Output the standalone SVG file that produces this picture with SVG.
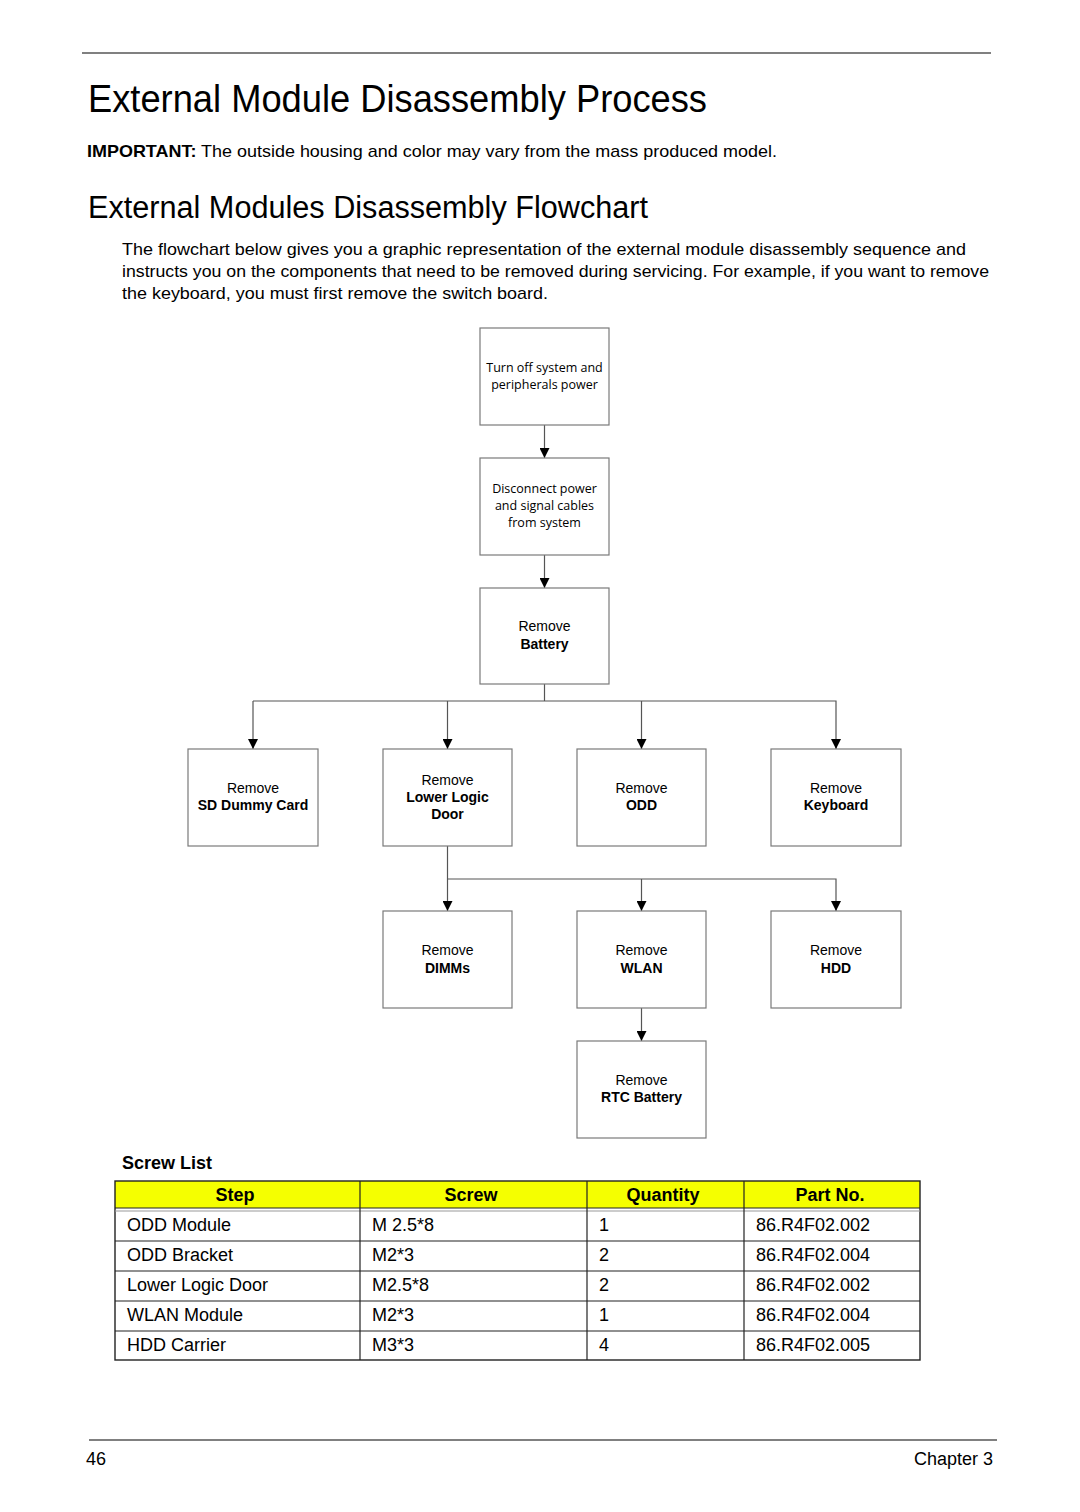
<svg xmlns="http://www.w3.org/2000/svg" width="1080" height="1512" viewBox="0 0 1080 1512">
<style>
text{font-family:"Liberation Sans",Arial,sans-serif;fill:#000}
.rule{stroke:#808080;stroke-width:2}
.box{fill:#fff;stroke:#7a7a7a;stroke-width:1.2}
.bt{font-size:14px;text-anchor:middle}
.bb{font-size:14px;font-weight:bold;text-anchor:middle}
.ct{font-family:"Open Sans","Noto Sans",sans-serif;font-size:12.5px;text-anchor:middle}
.con{stroke:#555;stroke-width:1.2;fill:none}
.cell{font-size:18px}
.hd{font-size:18px;font-weight:bold;text-anchor:middle}
.tl{stroke:#222;stroke-width:1.2}
</style>
<defs>
<marker id="ah" viewBox="0 0 10 10" refX="10" refY="5" markerWidth="10" markerHeight="10" markerUnits="userSpaceOnUse" orient="auto">
<path d="M0,0 L10,5 L0,10 z" fill="#000"/>
</marker>
</defs>
<rect width="1080" height="1512" fill="#fff"/>
<line class="rule" x1="82" y1="53" x2="991" y2="53"/>
<text x="88" y="112" font-size="38" textLength="619" lengthAdjust="spacingAndGlyphs">External Module Disassembly Process</text>
<text x="87" y="157" font-size="17" textLength="690" lengthAdjust="spacingAndGlyphs"><tspan font-weight="bold">IMPORTANT:</tspan> The outside housing and color may vary from the mass produced model.</text>
<text x="88" y="218" font-size="31" textLength="560" lengthAdjust="spacingAndGlyphs">External Modules Disassembly Flowchart</text>
<text x="122" y="255" font-size="17" textLength="844" lengthAdjust="spacingAndGlyphs">The flowchart below gives you a graphic representation of the external module disassembly sequence and</text>
<text x="122" y="277" font-size="17" textLength="867" lengthAdjust="spacingAndGlyphs">instructs you on the components that need to be removed during servicing. For example, if you want to remove</text>
<text x="122" y="299" font-size="17" textLength="426" lengthAdjust="spacingAndGlyphs">the keyboard, you must first remove the switch board.</text>

<g id="connectors">
<line class="con" x1="544.5" y1="425" x2="544.5" y2="458" marker-end="url(#ah)"/>
<line class="con" x1="544.5" y1="555" x2="544.5" y2="588" marker-end="url(#ah)"/>
<polyline class="con" points="544.5,684 544.5,701"/>
<polyline class="con" points="253,701 836,701 836,749" marker-end="url(#ah)"/>
<line class="con" x1="253" y1="701" x2="253" y2="749" marker-end="url(#ah)"/>
<line class="con" x1="447.5" y1="701" x2="447.5" y2="749" marker-end="url(#ah)"/>
<line class="con" x1="641.5" y1="701" x2="641.5" y2="749" marker-end="url(#ah)"/>
<line class="con" x1="447.5" y1="846" x2="447.5" y2="911" marker-end="url(#ah)"/>
<polyline class="con" points="447.5,879 836,879 836,911" marker-end="url(#ah)"/>
<line class="con" x1="641.5" y1="879" x2="641.5" y2="911" marker-end="url(#ah)"/>
<line class="con" x1="641.5" y1="1008" x2="641.5" y2="1041" marker-end="url(#ah)"/>
</g>

<g id="n-poweroff"><rect class="box" x="480" y="328" width="129" height="97"/>
<text class="ct" x="544.5" y="372">Turn off system and</text><text class="ct" x="544.5" y="389">peripherals power</text></g>
<g id="n-disconnect"><rect class="box" x="480" y="458" width="129" height="97"/>
<text class="ct" x="544.5" y="493">Disconnect power</text><text class="ct" x="544.5" y="510">and signal cables</text><text class="ct" x="544.5" y="527">from system</text></g>
<g id="n-battery"><rect class="box" x="480" y="588" width="129" height="96"/>
<text class="bt" x="544.5" y="631">Remove</text><text class="bb" x="544.5" y="649">Battery</text></g>
<g id="n-sd"><rect class="box" x="188" y="749" width="130" height="97"/>
<text class="bt" x="253" y="793">Remove</text><text class="bb" x="253" y="810">SD Dummy Card</text></g>
<g id="n-lld"><rect class="box" x="383" y="749" width="129" height="97"/>
<text class="bt" x="447.5" y="785">Remove</text><text class="bb" x="447.5" y="802">Lower Logic</text><text class="bb" x="447.5" y="819">Door</text></g>
<g id="n-odd"><rect class="box" x="577" y="749" width="129" height="97"/>
<text class="bt" x="641.5" y="793">Remove</text><text class="bb" x="641.5" y="810">ODD</text></g>
<g id="n-kb"><rect class="box" x="771" y="749" width="130" height="97"/>
<text class="bt" x="836" y="793">Remove</text><text class="bb" x="836" y="810">Keyboard</text></g>
<g id="n-dimm"><rect class="box" x="383" y="911" width="129" height="97"/>
<text class="bt" x="447.5" y="955">Remove</text><text class="bb" x="447.5" y="973">DIMMs</text></g>
<g id="n-wlan"><rect class="box" x="577" y="911" width="129" height="97"/>
<text class="bt" x="641.5" y="955">Remove</text><text class="bb" x="641.5" y="973">WLAN</text></g>
<g id="n-hdd"><rect class="box" x="771" y="911" width="130" height="97"/>
<text class="bt" x="836" y="955">Remove</text><text class="bb" x="836" y="973">HDD</text></g>
<g id="n-rtc"><rect class="box" x="577" y="1041" width="129" height="97"/>
<text class="bt" x="641.5" y="1085">Remove</text><text class="bb" x="641.5" y="1102">RTC Battery</text></g>

<text x="122" y="1169" font-size="18" font-weight="bold">Screw List</text>
<g id="table">
<rect x="115" y="1181" width="805" height="27" fill="#f5ff00"/>
<rect x="115" y="1181" width="805" height="179" fill="none" stroke="#222" stroke-width="1.4"/>
<line class="tl" x1="115" y1="1208" x2="920" y2="1208"/>
<line x1="115" y1="1211" x2="920" y2="1211" stroke="#999" stroke-width="1"/>
<line class="tl" x1="115" y1="1241" x2="920" y2="1241"/>
<line class="tl" x1="115" y1="1271" x2="920" y2="1271"/>
<line class="tl" x1="115" y1="1301" x2="920" y2="1301"/>
<line class="tl" x1="115" y1="1331" x2="920" y2="1331"/>
<line class="tl" x1="360" y1="1181" x2="360" y2="1360"/>
<line class="tl" x1="587" y1="1181" x2="587" y2="1360"/>
<line class="tl" x1="744" y1="1181" x2="744" y2="1360"/>
<text class="hd" x="235" y="1201">Step</text>
<text class="hd" x="471" y="1201">Screw</text>
<text class="hd" x="663" y="1201">Quantity</text>
<text class="hd" x="830" y="1201">Part No.</text>
<text class="cell" x="127" y="1231">ODD Module</text><text class="cell" x="372" y="1231">M 2.5*8</text><text class="cell" x="599" y="1231">1</text><text class="cell" x="756" y="1231">86.R4F02.002</text>
<text class="cell" x="127" y="1261">ODD Bracket</text><text class="cell" x="372" y="1261">M2*3</text><text class="cell" x="599" y="1261">2</text><text class="cell" x="756" y="1261">86.R4F02.004</text>
<text class="cell" x="127" y="1291">Lower Logic Door</text><text class="cell" x="372" y="1291">M2.5*8</text><text class="cell" x="599" y="1291">2</text><text class="cell" x="756" y="1291">86.R4F02.002</text>
<text class="cell" x="127" y="1321">WLAN Module</text><text class="cell" x="372" y="1321">M2*3</text><text class="cell" x="599" y="1321">1</text><text class="cell" x="756" y="1321">86.R4F02.004</text>
<text class="cell" x="127" y="1351">HDD Carrier</text><text class="cell" x="372" y="1351">M3*3</text><text class="cell" x="599" y="1351">4</text><text class="cell" x="756" y="1351">86.R4F02.005</text>
</g>
<line class="rule" x1="89" y1="1440" x2="997" y2="1440"/>
<text x="86" y="1465" font-size="18">46</text>
<text x="993" y="1465" font-size="18" text-anchor="end">Chapter 3</text>
</svg>
